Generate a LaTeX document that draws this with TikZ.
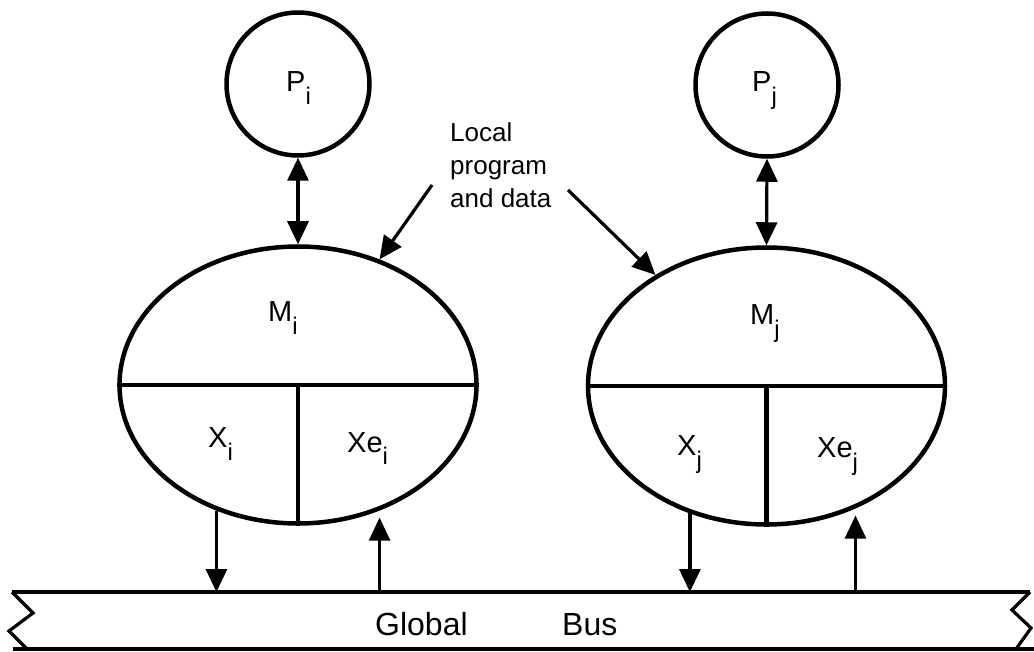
\documentclass[tikz,border=0pt]{standalone}
\usepackage{fontspec}
\setmainfont{Liberation Sans}
\usetikzlibrary{shapes.geometric,arrows.meta}
% lowered, slightly smaller index letter
\newcommand\lsub[1]{\raisebox{-13pt}{\fontsize{24}{24}\selectfont #1}}
\begin{document}
\begin{tikzpicture}[x=1pt,y=-1pt,
  proc/.style={circle,draw,line width=4.5pt,minimum size=143pt,inner sep=0},
  mem/.style={ellipse,draw,line width=4.5pt,minimum width=357pt,minimum height=277pt,inner sep=0},
  divider/.style={line width=4.5pt},
  lbl/.style={font=\fontsize{29}{29}\selectfont,inner sep=0,anchor=base west},
  dn/.style={line width=3.2pt,-{Triangle[width=21pt,length=23pt]}},
  upconn/.style={line width=2.6pt,-{Triangle[width=21pt,length=23pt]},shorten >=7pt},
  both/.style={line width=3.2pt,{Triangle[width=21pt,length=23pt]}-{Triangle[width=21pt,length=23pt]}},
  busline/.style={line width=3.2pt,line join=miter}
]
\fill[white] (0,0) rectangle (1034,652);
\useasboundingbox (0,0) rectangle (1034,652);

% processors
\node[proc] (Pi) at (298,84) {};
\node[proc] (Pj) at (767,85) {};
\node[lbl] (Pitxt) at (286,92) {P\lsub{i}};
\node[lbl] (Pjtxt) at (752,92) {P\lsub{j}};

% memories
\node[mem] (Mi) at (298,385) {};
\node[mem] (Mj) at (766.5,386) {};
\draw[divider] (Mi.west) -- (Mi.east);
\draw[divider] (Mi.center) -- (Mi.south);
\draw[divider] (Mj.west) -- (Mj.east);
\draw[divider] (Mj.center) -- (Mj.south);

\node[lbl] (Mitxt) at (268,322) {M\lsub{i}};
\node[lbl] (Xitxt) at (208,447) {X\lsub{i}};
\node[lbl] (Xeitxt) at (347,452) {Xe\lsub{i}};
\node[lbl] (Mjtxt) at (750,325) {M\lsub{j}};
\node[lbl] (Xjtxt) at (677,455) {X\lsub{j}};
\node[lbl] (Xejtxt) at (817,457) {Xe\lsub{j}};

% processor <-> memory
\draw[both] (Pi.south) -- (Mi.north);
\draw[both] (Pj.south) -- (Mj.north);

% annotation
\node[font=\fontsize{26}{33}\selectfont,align=left,anchor=north west,inner sep=0] (note) at (450,122) {Local\\program\\and data};
\coordinate (na) at (432,185);
\coordinate (nb) at (568,190);
\draw[dn] (na) -- (Mi.57);
\draw[dn] (nb) -- (Mj.135);

% global bus
\coordinate (busL) at (12,592);
\coordinate (busR) at (1030,592);
\draw[busline] (busL) -- (busR);
\draw[busline] (13,649) -- (1034,649);
\draw[busline] (12,592) -- (33,613) -- (9,631) -- (27,649);
\draw[busline] (1030,592) -- (1012,610) -- (1031,628) -- (1016,649);
\node[font=\fontsize{32}{32}\selectfont,anchor=base west,inner sep=0] (busa) at (375,635) {Global};
\node[font=\fontsize{32}{32}\selectfont,anchor=base west,inner sep=0] (busb) at (562,635) {Bus};

% memory <-> bus
\draw[dn] (Mi.237) -- (Mi.237 |- busL);
\draw[upconn] (Mi.303 |- busL) -- (Mi.303);
\draw[dn] (Mj.239) -- (Mj.239 |- busL);
\draw[upconn] (Mj.306 |- busL) -- (Mj.306);
\end{tikzpicture}
\end{document}
